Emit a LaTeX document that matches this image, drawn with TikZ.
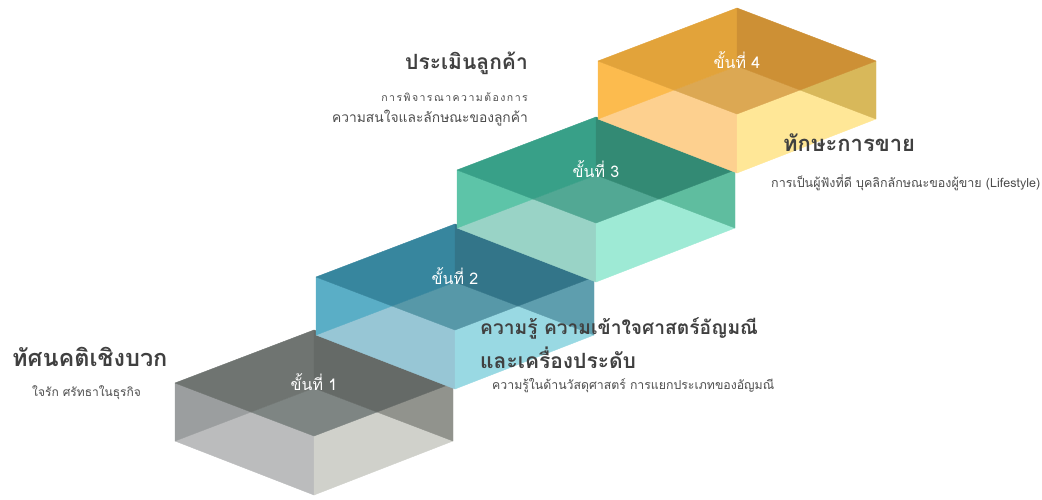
\documentclass[tikz,border=0pt]{standalone}
\usepackage{fontspec}
\newfontfamily\thai[Script=Thai]{Loma}
\begin{document}
\begin{tikzpicture}[x=1pt,y=-1pt,
  face/.style={line width=0.4pt, line join=round},
  head/.style={font=\thai\bfseries\fontsize{21}{24}\selectfont, text=black!75, inner sep=0pt},
  sub/.style={font=\thai\fontsize{12.3}{14}\selectfont, text=black!70, inner sep=0pt},
  steplabel/.style={font=\thai\fontsize{16}{18}\selectfont, text=white, inner sep=0pt}]
% colours: DL dark-left, DR dark-right, MD middle, LB left band, RB right band, LL light-left, LR light-right
\definecolor{aDL}{HTML}{6F7471}\definecolor{aDR}{HTML}{656A67}\definecolor{aMD}{HTML}{7E8583}
\definecolor{aLB}{HTML}{9B9E9F}\definecolor{aRB}{HTML}{91938D}\definecolor{aLL}{HTML}{BBBCBD}\definecolor{aLR}{HTML}{D0D1CB}
\definecolor{bDL}{HTML}{37869E}\definecolor{bDR}{HTML}{337589}\definecolor{bMD}{HTML}{5798A8}
\definecolor{bLB}{HTML}{5AAEC6}\definecolor{bRB}{HTML}{5E9EAE}\definecolor{bLL}{HTML}{97C6D5}\definecolor{bLR}{HTML}{99D9E3}
\definecolor{cDL}{HTML}{38A088}\definecolor{cDR}{HTML}{338A74}\definecolor{cMD}{HTML}{52A894}
\definecolor{cLB}{HTML}{5DC4A8}\definecolor{cRB}{HTML}{5FBD9F}\definecolor{cLL}{HTML}{99D3C6}\definecolor{cLR}{HTML}{9EEAD5}
\definecolor{dDL}{HTML}{E2A33A}\definecolor{dDR}{HTML}{CD9035}\definecolor{dMD}{HTML}{DCA853}
\definecolor{dLB}{HTML}{FCBB4E}\definecolor{dRB}{HTML}{D8B85A}\definecolor{dLL}{HTML}{FDD08F}\definecolor{dLR}{HTML}{FFE797}
\useasboundingbox (0,0) rectangle (1042,499);
\foreach \cx/\cy/\k/\n in {314/383/a/1, 455/277/b/2, 596/170/c/3, 737/61/d/4}{
  \begin{scope}[shift={(\cx,\cy)}]
    \coordinate (TL) at (-139,0); \coordinate (TB) at (0,-53);
    \coordinate (TR) at (139,0);  \coordinate (TF) at (0,53);
    \coordinate (BL) at (-139,58); \coordinate (BB) at (0,5);
    \coordinate (BR) at (139,58);  \coordinate (BF) at (0,112);
    \coordinate (P) at (-63,29);   \coordinate (Q) at (63,29);
    \filldraw[face, fill=\k LL, draw=\k LL] (BL) -- (P) -- (TF) -- (BF) -- cycle;
    \filldraw[face, fill=\k LR, draw=\k LR] (TF) -- (Q) -- (BR) -- (BF) -- cycle;
    \filldraw[face, fill=\k LB, draw=\k LB] (TL) -- (P) -- (BL) -- cycle;
    \filldraw[face, fill=\k RB, draw=\k RB] (TR) -- (Q) -- (BR) -- cycle;
    \filldraw[face, fill=\k MD, draw=\k MD] (P) -- (BB) -- (Q) -- (TF) -- cycle;
    \filldraw[face, fill=\k DL, draw=\k DL] (TL) -- (TB) -- (BB) -- (P) -- cycle;
    \filldraw[face, fill=\k DR, draw=\k DR] (TB) -- (TR) -- (Q) -- (BB) -- cycle;
    \node[steplabel] (label\n) at (0,-1) {ขั้นที่ \n};
  \end{scope}
}
% texts
\node[head, anchor=west, font=\thai\bfseries\fontsize{23.5}{26}\selectfont] (h1) at (12,357) {ทัศนคติเชิงบวก};
\node[sub, anchor=west, font=\thai\fontsize{12}{14}\selectfont] (s1) at (32,393) {ใจรัก ศรัทธาในธุรกิจ};
\node[head, anchor=east] (h4) at (528,63) {ประเมินลูกค้า};
\node[sub, anchor=east, font=\thai\fontsize{10.5}{12}\selectfont\addfontfeature{LetterSpace=14}] (s4a) at (528,97) {การพิจารณาความต้องการ};
\node[sub, anchor=east, font=\thai\fontsize{13.8}{16}\selectfont] (s4b) at (528,118) {ความสนใจและลักษณะของลูกค้า};
\node[head, anchor=west, font=\thai\bfseries\fontsize{22}{25}\selectfont] (h3) at (783,143) {ทักษะการขาย};
\node[sub, anchor=west, font=\thai\fontsize{12.5}{14}\selectfont] (s3) at (771,183) {การเป็นผู้ฟังที่ดี บุคลิกลักษณะของผู้ขาย (Lifestyle)};
\node[head, anchor=west, font=\thai\bfseries\fontsize{19.2}{22}\selectfont] (h2a) at (480,328) {ความรู้ ความเข้าใจศาสตร์อัญมณี};
\node[head, anchor=west] (h2b) at (480,358) {และเครื่องประดับ};
\node[sub, anchor=west] (s2) at (492,386) {ความรู้ในด้านวัสดุศาสตร์ การแยกประเภทของอัญมณี};
\end{tikzpicture}
\end{document}
